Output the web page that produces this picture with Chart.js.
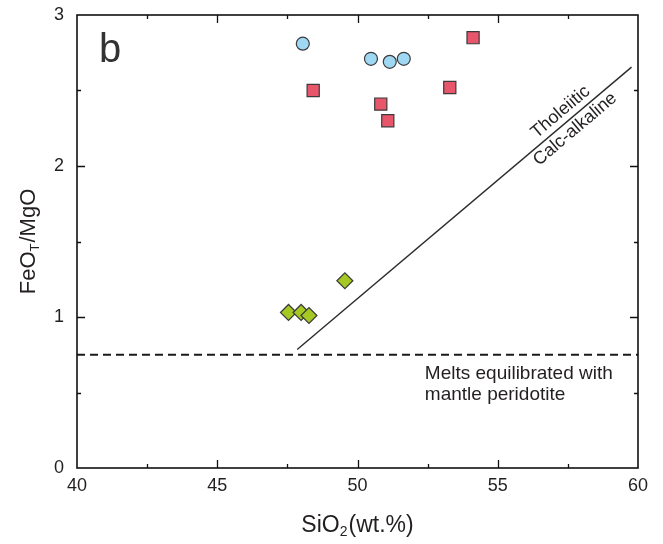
<!DOCTYPE html>
<html>
<head>
<meta charset="utf-8">
<script src="https://cdn.jsdelivr.net/npm/chart.js@4.4.1/dist/chart.umd.min.js"></script>
<style>
  html, body { margin: 0; padding: 0; background: #ffffff; }
  #wrap { width: 663px; height: 544px; }
</style>
</head>
<body>
<div id="wrap"><canvas id="chart" width="663" height="544"></canvas></div>
<script>
// Sample groups: SiO2 (wt.%) against FeOT/MgO
const sio2Circles = [48.05, 50.48, 51.15, 51.65];
const ratioCircles = [2.81, 2.71, 2.69, 2.71];
const sio2Squares = [48.42, 50.83, 51.08, 53.29, 54.12];
const ratioSquares = [2.50, 2.41, 2.30, 2.52, 2.85];
const sio2Diamonds = [47.54, 47.99, 48.27, 49.55];
const ratioDiamonds = [1.03, 1.03, 1.01, 1.24];

// Tholeiitic / calc-alkaline divider
const dividerSiO2 = [47.85, 59.77];
const dividerRatio = [0.785, 2.655];

// Upper limit for melts in equilibrium with mantle peridotite
const mantleSiO2 = [40, 60];
const mantleRatio = [0.75, 0.75];

const xTicks = [40, 45, 50, 55, 60];
const yTicks = [0, 1, 2, 3];

const FONT = '"Liberation Sans", Arial, Helvetica, sans-serif';
const INK = '#231f20';

const toPoints = (xs, ys) => xs.map((v, i) => ({ x: v, y: ys[i] }));
const midpoints = arr => arr.slice(1).map((v, i) => (v + arr[i]) / 2);

// draws a run of text pieces, some of them lowered and smaller (subscripts)
function drawSubscripted(ctx, parts, x, y, big, small, drop) {
  let total = 0;
  const widths = parts.map(([t, sub]) => {
    ctx.font = (sub ? small : big) + 'px ' + FONT;
    const w = ctx.measureText(t).width + (sub ? 1 : 0);
    total += w;
    return w;
  });
  let cx = x - total / 2;
  parts.forEach(([t, sub], i) => {
    ctx.font = (sub ? small : big) + 'px ' + FONT;
    ctx.fillText(t, cx, sub ? y + drop : y);
    cx += widths[i];
  });
}

const decor = {
  id: 'decor',
  afterDatasetsDraw(chart) {
    const { ctx, chartArea: a, scales: { x, y } } = chart;
    ctx.save();

    // frame
    ctx.strokeStyle = '#111';
    ctx.lineWidth = 1.6;
    ctx.strokeRect(a.left, a.top, a.right - a.left, a.bottom - a.top);

    // inward ticks on all four sides
    ctx.lineWidth = 1.3;
    const major = 8, minor = 4;
    ctx.beginPath();
    const xt = (v, len) => {
      const px = Math.round(x.getPixelForValue(v)) + 0.5;
      ctx.moveTo(px, a.bottom); ctx.lineTo(px, a.bottom - len);
      ctx.moveTo(px, a.top); ctx.lineTo(px, a.top + len);
    };
    const yt = (v, len) => {
      const py = Math.round(y.getPixelForValue(v)) + 0.5;
      ctx.moveTo(a.left, py); ctx.lineTo(a.left + len, py);
      ctx.moveTo(a.right, py); ctx.lineTo(a.right - len, py);
    };
    xTicks.slice(1, -1).forEach(v => xt(v, major));
    midpoints(xTicks).forEach(v => xt(v, minor));
    yTicks.slice(1, -1).forEach(v => yt(v, major));
    midpoints(yTicks).forEach(v => yt(v, minor));
    ctx.stroke();

    ctx.fillStyle = INK;

    // divider labels, rotated along the line
    const x0 = x.getPixelForValue(dividerSiO2[0]), y0 = y.getPixelForValue(dividerRatio[0]);
    const x1 = x.getPixelForValue(dividerSiO2[1]), y1 = y.getPixelForValue(dividerRatio[1]);
    const ang = Math.atan2(y1 - y0, x1 - x0);
    const f = 0.81;
    const mx = x0 + (x1 - x0) * f, my = y0 + (y1 - y0) * f;
    const nx = Math.sin(ang), ny = -Math.cos(ang); // normal pointing up-left
    ctx.font = '18px ' + FONT;
    ctx.textAlign = 'center';
    ctx.textBaseline = 'middle';
    [['Tholeiitic', 11.5], ['Calc-alkaline', -11]].forEach(([t, off]) => {
      ctx.save();
      ctx.translate(mx + nx * off, my + ny * off);
      ctx.rotate(ang);
      ctx.fillText(t, 0, 0);
      ctx.restore();
    });

    // mantle peridotite note
    ctx.font = '19px ' + FONT;
    ctx.textAlign = 'left';
    ctx.textBaseline = 'alphabetic';
    const tx = x.getPixelForValue(52.4);
    const ty = y.getPixelForValue(mantleRatio[0]);
    ctx.fillText('Melts equilibrated with', tx, ty + 24);
    ctx.fillText('mantle peridotite', tx, ty + 45);

    // panel letter
    ctx.fillStyle = '#333';
    ctx.font = '40px ' + FONT;
    ctx.fillText('b', a.left + 22, a.top + 47);

    // axis titles
    ctx.fillStyle = INK;
    ctx.textAlign = 'left';
    drawSubscripted(ctx, [['SiO', false], ['2', true], ['(wt.%)', false]],
      (a.left + a.right) / 2, 532, 23, 14, 4);
    ctx.save();
    ctx.translate(35, (a.top + a.bottom) / 2);
    ctx.rotate(-Math.PI / 2);
    drawSubscripted(ctx, [['FeO', false], ['T', true], ['/MgO', false]], 0, 0, 22, 13, 4);
    ctx.restore();

    ctx.restore();
  }
};

const markerBorder = '#3b3b3b';

new Chart(document.getElementById('chart'), {
  type: 'scatter',
  data: {
    datasets: [
      {
        label: 'Circles',
        data: toPoints(sio2Circles, ratioCircles),
        pointStyle: 'circle', pointRadius: 6.5, pointHoverRadius: 6.5,
        backgroundColor: '#9fd8f3', borderColor: markerBorder, borderWidth: 1.2,
        order: 1
      },
      {
        label: 'Squares',
        data: toPoints(sio2Squares, ratioSquares),
        pointStyle: 'rect', pointRadius: 8.6, pointHoverRadius: 8.6,
        backgroundColor: '#e8566c', borderColor: markerBorder, borderWidth: 1.2,
        order: 1
      },
      {
        label: 'Diamonds',
        data: toPoints(sio2Diamonds, ratioDiamonds),
        pointStyle: 'rectRot', pointRadius: 8, pointHoverRadius: 8,
        backgroundColor: '#a6c823', borderColor: markerBorder, borderWidth: 1.2,
        order: 1
      },
      {
        label: 'Divider',
        data: toPoints(dividerSiO2, dividerRatio),
        showLine: true, pointRadius: 0, borderColor: '#2b2b2b', borderWidth: 1.4,
        order: 5
      },
      {
        label: 'Mantle peridotite',
        data: toPoints(mantleSiO2, mantleRatio),
        showLine: true, pointRadius: 0, borderColor: '#1a1a1a', borderWidth: 2,
        borderDash: [8, 5],
        order: 5
      }
    ]
  },
  options: {
    responsive: false,
    animation: false,
    devicePixelRatio: 1,
    layout: { padding: { top: 15, right: 25, left: 0, bottom: 0 } },
    plugins: { legend: { display: false }, tooltip: { enabled: false } },
    events: [],
    scales: {
      x: {
        type: 'linear', min: 40, max: 60,
        grid: { display: false, drawTicks: false },
        border: { display: false },
        ticks: { font: { family: FONT, size: 18 }, color: INK, padding: 7 },
        afterBuildTicks: s => { s.ticks = xTicks.map(v => ({ value: v })); },
        afterFit: s => { s.height = 76; s.paddingLeft = 0; s.paddingRight = 0; }
      },
      y: {
        type: 'linear', min: 0, max: 3,
        grid: { display: false, drawTicks: false },
        border: { display: false },
        ticks: { font: { family: FONT, size: 18 }, color: INK, padding: 13 },
        afterBuildTicks: s => { s.ticks = yTicks.map(v => ({ value: v })); },
        afterFit: s => { s.width = 77; s.paddingTop = 0; s.paddingBottom = 0; }
      }
    }
  },
  plugins: [decor]
});
</script>
</body>
</html>
